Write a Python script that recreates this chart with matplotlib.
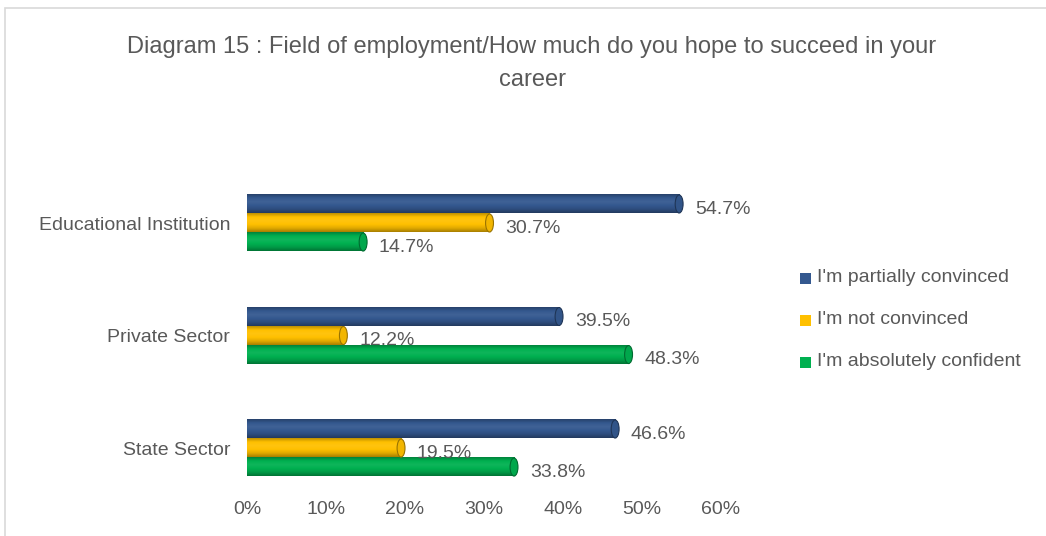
import matplotlib
matplotlib.use("Agg")
import matplotlib.pyplot as plt
from matplotlib.patches import Ellipse, Rectangle
from matplotlib.colors import to_rgb
import matplotlib.font_manager as fm
import numpy as np

categories = ["State Sector", "Private Sector", "Educational Institution"]
series = ["I'm partially convinced", "I'm not convinced", "I'm absolutely confident"]
partially = [46.6, 39.5, 54.7]
not_conv = [19.5, 12.2, 30.7]
confident = [33.8, 48.3, 14.7]
ticks = [0, 10, 20, 30, 40, 50, 60]

colors = ["#34588F", "#FFC000", "#00B050"]
TXT = "#595959"

names = {f.name for f in fm.fontManager.ttflist}
narrow = "Liberation Sans Narrow" if "Liberation Sans Narrow" in names else "Liberation Sans"
plt.rcParams["font.family"] = [narrow, "DejaVu Sans"]

W, H = 1046, 536
fig = plt.figure(figsize=(W / 100, H / 100), dpi=100)
# outer chart frame, open at right and bottom
fig.patches.append(Rectangle((5 / W, -0.2), 1.2, 1.2 - 8 / H, transform=fig.transFigure,
                             fill=False, ec="#D9D9D9", lw=1.2))
ax = fig.add_axes([247 / W, 38 / H, (721 - 247) / W, 330 / H])
ax.set_xlim(0, 60)
ax.set_ylim(-0.444, 2.489)


def shade(c, f):
    r = np.array(to_rgb(c))
    return np.clip(r * f if f < 1 else r + (1 - r) * (f - 1), 0, 1)


def cylinder(v, y, h, c):
    # vertical gradient: dark rim, light band, dark bottom
    stops = np.array([0.75, 1.0, 1.06, 1.0, 0.88, 0.66])
    pos = np.linspace(0, 1, len(stops))
    rows = np.interp(np.linspace(0, 1, 40), pos, stops)
    img = np.array([[shade(c, f)] for f in rows])
    ax.imshow(img, extent=[0, v, y - h / 2, y + h / 2], aspect="auto",
              interpolation="bilinear", origin="upper", zorder=2)
    ax.add_patch(Ellipse((0, y), 1.0, h, fc=shade(c, 0.8), ec="none", zorder=1.9))
    ax.add_patch(Ellipse((v, y), 1.0, h, fc=shade(c, 0.95), ec=shade(c, 0.6),
                         lw=0.8, zorder=3))


h = 0.16
off = 0.169
for k, vals in enumerate([partially, not_conv, confident]):
    for i, v in enumerate(vals):
        y = i + off * (1 - k)
        cylinder(v, y, h, colors[k])
        ax.text(v + 2.0, y - 0.045, f"{v:.1f}%", va="center", ha="left",
                fontsize=14, color=TXT, zorder=4)

ax.set_yticks(range(len(categories)))
ax.set_yticklabels(categories, fontsize=14, color=TXT)
ax.set_xticks(ticks)
ax.set_xticklabels([f"{t}%" for t in ticks], fontsize=14, color=TXT)
ax.tick_params(length=0, pad=2)
ax.tick_params(axis="y", pad=12)
for s in ax.spines.values():
    s.set_visible(False)

for k, name in enumerate(series):
    yy = 1 - (278 + 42 * k) / H
    fig.patches.append(Rectangle((800 / W, yy - 5.5 / H), 11 / W, 11 / H,
                                 transform=fig.transFigure, fc=colors[k], ec="none"))
    fig.text(817 / W, yy, name, va="center", ha="left", fontsize=14, color=TXT)

fig.text(532 / W, 1 - 47 / H,
         "Diagram 15 : Field of employment/How much do you hope to succeed in your",
         ha="center", va="center", fontsize=17, color=TXT)
fig.text(532 / W, 1 - 80 / H, "career", ha="center", va="center", fontsize=17, color=TXT)

fig.savefig("out.png", dpi=100)
